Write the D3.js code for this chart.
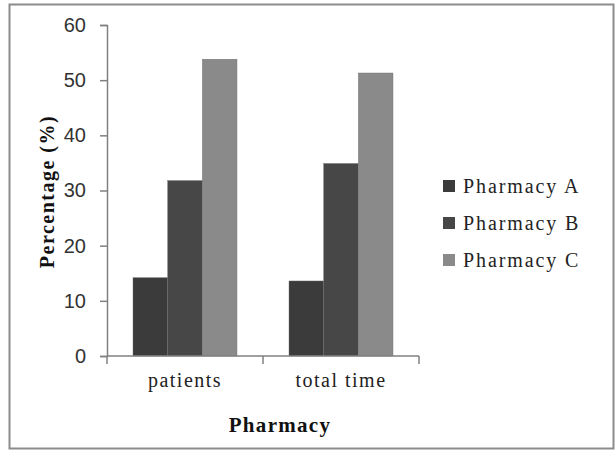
<!DOCTYPE html>
<html>
<head>
<meta charset="utf-8">
<script src="https://cdn.jsdelivr.net/npm/d3@7"></script>
<style>
  html, body { margin: 0; padding: 0; background: #fff; }
  svg { display: block; }
  .serif { font-family: "Liberation Serif", "Times New Roman", Times, serif; }
  .sans { font-family: "Liberation Sans", Arial, Helvetica, sans-serif; }
</style>
</head>
<body>
<script>
// Share (%) of patients and total time handled by each pharmacy
const categories = ["patients", "total time"];
const seriesNames = ["Pharmacy A", "Pharmacy B", "Pharmacy C"];
const pharmacyA = [14.2, 13.6];
const pharmacyB = [31.8, 34.9];
const pharmacyC = [53.8, 51.3];
const yTicks = [0, 10, 20, 30, 40, 50, 60];
const seriesColors = ["#3b3b3b", "#474747", "#8a8a8a"];

const seriesValues = [pharmacyA, pharmacyB, pharmacyC];
const rows = categories.map((c, i) => ({
  category: c,
  values: seriesNames.map((s, j) => ({ series: s, value: seriesValues[j][i] }))
}));

const W = 616, H = 450;
const plot = { left: 107, right: 419, top: 25, bottom: 356 };

const svg = d3.select("body").append("svg")
  .attr("width", W).attr("height", H);

// outer frame
svg.append("rect")
  .attr("x", 9.5).attr("y", 4.5)
  .attr("width", 604).attr("height", 444)
  .attr("fill", "#fff")
  .attr("stroke", "#8c8c8c").attr("stroke-width", 2);

const x0 = d3.scaleBand().domain(categories)
  .range([plot.left, plot.right]).padding(0);
const x1 = d3.scaleBand().domain(seriesNames)
  .range([26, x0.bandwidth() - 26]).padding(0);
const y = d3.scaleLinear().domain([0, 60]).range([plot.bottom, plot.top]);
const color = d3.scaleOrdinal().domain(seriesNames).range(seriesColors);

// bars
const groups = svg.append("g").selectAll("g").data(rows).join("g")
  .attr("transform", d => `translate(${x0(d.category)},0)`);
groups.selectAll("rect").data(d => d.values).join("rect")
  .attr("x", d => x1(d.series))
  .attr("width", x1.bandwidth())
  .attr("y", d => y(d.value))
  .attr("height", d => y(0) - y(d.value))
  .attr("fill", d => color(d.series))
  .attr("stroke", "#6e6e6e").attr("stroke-width", 0.4);

// y axis
const yAxis = svg.append("g")
  .attr("transform", `translate(${plot.left},0)`)
  .call(d3.axisLeft(y).tickValues(yTicks).tickSize(7).tickPadding(14).tickFormat(d3.format("d")));
yAxis.attr("font-family", null).attr("font-size", null);
yAxis.select(".domain").attr("stroke", "#808080").attr("stroke-width", 1.5);
yAxis.selectAll(".tick line").attr("stroke", "#808080").attr("stroke-width", 1.5);
yAxis.selectAll(".tick text")
  .attr("class", "sans")
  .style("font-size", "20px").attr("fill", "#333");

// x axis with ticks on band boundaries
const xAxisG = svg.append("g").attr("transform", `translate(0,${plot.bottom})`);
xAxisG.append("line")
  .attr("x1", plot.left).attr("x2", plot.right)
  .attr("stroke", "#808080").attr("stroke-width", 1.5);
const boundaries = categories.map(c => x0(c)).concat([x0(categories[categories.length - 1]) + x0.bandwidth()]);
xAxisG.selectAll("line.tk").data(boundaries).join("line")
  .attr("class", "tk")
  .attr("x1", d => d).attr("x2", d => d)
  .attr("y1", 0).attr("y2", 8)
  .attr("stroke", "#808080").attr("stroke-width", 1.5);
xAxisG.selectAll("text").data(categories).join("text")
  .attr("class", "serif")
  .attr("x", d => x0(d) + x0.bandwidth() / 2)
  .attr("y", 31)
  .attr("text-anchor", "middle")
  .style("font-size", "20px").style("letter-spacing", "1.5px")
  .attr("fill", "#222")
  .text(d => d);

// axis titles
svg.append("text")
  .attr("class", "serif")
  .attr("x", 280)
  .attr("y", 432)
  .attr("text-anchor", "middle")
  .style("font-size", "21px").style("font-weight", "bold").style("letter-spacing", "1.3px")
  .attr("fill", "#111")
  .text("Pharmacy");

svg.append("text")
  .attr("class", "serif")
  .attr("transform", `translate(54,${(plot.top + plot.bottom) / 2 + 1}) rotate(-90)`)
  .attr("text-anchor", "middle")
  .style("font-size", "20px").style("font-weight", "bold").style("letter-spacing", "1.5px")
  .attr("fill", "#111")
  .text("Percentage (%)");

// legend
const legend = svg.append("g").attr("transform", "translate(443,186)");
const item = legend.selectAll("g").data(seriesNames).join("g")
  .attr("transform", (d, i) => `translate(0,${i * 37})`);
item.append("rect")
  .attr("x", 0).attr("y", -6)
  .attr("width", 12).attr("height", 12)
  .attr("fill", d => color(d));
item.append("text")
  .attr("class", "serif")
  .attr("x", 20).attr("y", 7)
  .style("font-size", "20px").style("letter-spacing", "1.9px")
  .attr("fill", "#222")
  .text(d => d);
</script>
</body>
</html>
